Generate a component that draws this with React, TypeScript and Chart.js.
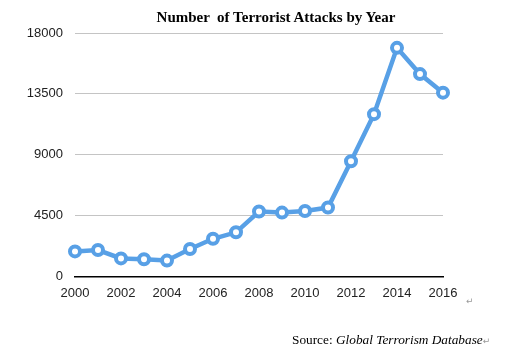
import React, { useEffect, useRef } from "react";
import { Chart, registerables } from "chart.js";

Chart.register(...registerables);

const years = ["2000","2001","2002","2003","2004","2005","2006","2007","2008","2009","2010","2011","2012","2013","2014","2015","2016"];
const attacks = [1850, 1950, 1330, 1270, 1170, 2030, 2780, 3260, 4800, 4720, 4840, 5090, 8520, 12000, 16900, 14960, 13590];
const yTicks = [0, 4500, 9000, 13500, 18000];
const titleText = "Number  of Terrorist Attacks by Year";

const BLUE = "#58A0E6";

export default function App() {
  const ref = useRef<HTMLCanvasElement | null>(null);

  useEffect(() => {
    if (!ref.current) return;
    const chart = new Chart(ref.current, {
      type: "line",
      data: {
        labels: years,
        datasets: [
          {
            data: attacks,
            borderColor: BLUE,
            borderWidth: 4.5,
            backgroundColor: "#ffffff",
            pointBackgroundColor: "#ffffff",
            pointBorderColor: BLUE,
            pointBorderWidth: 4,
            pointRadius: 5,
            tension: 0,
            fill: false,
          },
        ],
      },
      options: {
        responsive: false,
        animation: false,
        layout: { padding: { left: 0, right: 76, top: 33, bottom: 45 } },
        plugins: {
          legend: { display: false },
          tooltip: { enabled: false },
          title: { display: false },
        },
        scales: {
          x: {
            type: "category",
            offset: false,
            grid: { display: false, drawTicks: false },
            border: { display: true, color: "#000", width: 1.5 },
            ticks: {
              autoSkip: false,
              maxRotation: 0,
              padding: 9,
              color: "#222",
              font: { family: "'Liberation Sans', Arial, sans-serif", size: 13 },
              callback: function (this: any, value: any, index: number) {
                const lab = years[index];
                return Number(lab) % 2 === 0 ? lab : "";
              },
            },
          },
          y: {
            min: 0,
            max: 18000,
            afterFit: (scale: any) => {
              scale.width = 75;
            },
            afterBuildTicks: (scale: any) => {
              scale.ticks = yTicks.map((v) => ({ value: v }));
            },
            grid: {
              drawTicks: false,
              color: (ctx: any) => (ctx.tick && ctx.tick.value === 0 ? "rgba(0,0,0,0)" : "#c4c4c4"),
              lineWidth: 1,
            },
            border: { display: false },
            ticks: {
              padding: 12,
              color: "#222",
              font: { family: "'Liberation Sans', Arial, sans-serif", size: 13 },
              callback: (v: any) => String(v),
            },
          },
        },
      },
    });
    return () => chart.destroy();
  }, []);

  return (
    <div style={{ position: "fixed", left: 0, top: 0, width: 519, height: 355, background: "#fff" }}>
      <canvas ref={ref} width={519} height={355} style={{ position: "absolute", left: 0, top: 0 }} />
      <div
        style={{
          position: "absolute",
          left: 0,
          width: 552,
          top: 8,
          textAlign: "center",
          fontFamily: "'Liberation Serif', 'Times New Roman', serif",
          fontSize: 15,
          fontWeight: "bold",
          lineHeight: "19px",
          color: "#000",
          whiteSpace: "pre",
        }}
      >
        {titleText}
      </div>
      <div
        style={{
          position: "absolute",
          left: 466,
          top: 296,
          fontFamily: "'DejaVu Sans', sans-serif",
          fontSize: 9,
          color: "#999",
        }}
      >
        ↵
      </div>
      <div
        style={{
          position: "absolute",
          left: 292,
          top: 332,
          fontFamily: "'Liberation Serif', 'Times New Roman', serif",
          fontSize: 13.3,
          lineHeight: "16px",
          color: "#000",
          whiteSpace: "nowrap",
        }}
      >
        Source: <i>Global Terrorism Database</i>
        <span style={{ fontFamily: "'DejaVu Sans', sans-serif", fontSize: 9, color: "#999" }}>↵</span>
      </div>
    </div>
  );
}
